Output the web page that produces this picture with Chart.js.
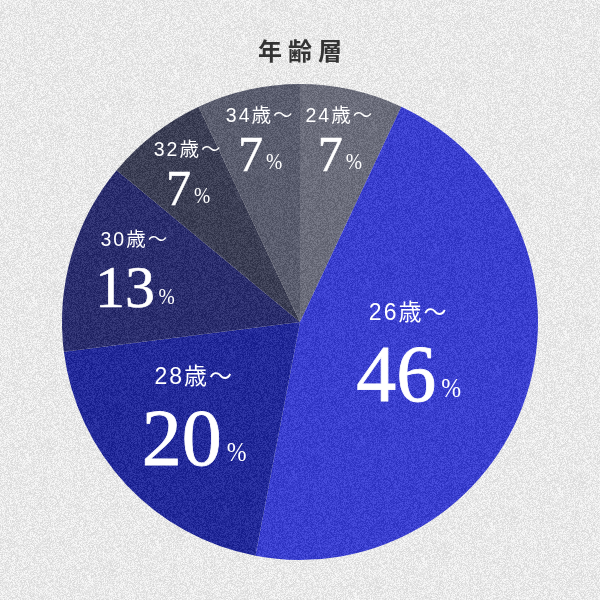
<!DOCTYPE html>
<html>
<head>
<meta charset="utf-8">
<script src="https://cdn.jsdelivr.net/npm/chart.js@4"></script>
<style>
  body { margin: 0; background: #e9e9e9; }
  #wrap { width: 600px; height: 600px; }
</style>
</head>
<body>
<div id="wrap"><canvas id="chart"></canvas></div>
<script>
var titulo = "年齢層";
var categorias = ["24歳～", "26歳～", "28歳～", "30歳～", "32歳～", "34歳～"];
var porcentagens = [7, 46, 20, 13, 7, 7];
var cores = ["#6b6d7b", "#3a3fcf", "#232a9a", "#2b2e6e", "#3c3f55", "#5a5d6e"];

var serifa = "'Times New Roman', 'Liberation Serif', Times, serif";

// ruido deterministico (textura do fundo)
var semente = 12345;
function proximo() {
  semente = (semente * 1103515245 + 12345) & 0x7fffffff;
  return semente / 0x7fffffff;
}

var fundo = {
  id: "fundo",
  beforeDraw: function (chart) {
    var ctx = chart.ctx;
    ctx.save();
    ctx.fillStyle = "#e9e9e9";
    ctx.fillRect(0, 0, chart.width, chart.height);
    ctx.restore();
  },
  afterDatasetsDraw: function (chart) {
    var ctx = chart.ctx;
    var img = ctx.getImageData(0, 0, chart.width, chart.height);
    var d = img.data;
    semente = 12345;
    for (var i = 0; i < d.length; i += 4) {
      var n = (proximo() - 0.5) * 34;
      d[i] = d[i] + n;
      d[i + 1] = d[i + 1] + n;
      d[i + 2] = d[i + 2] + n;
    }
    ctx.putImageData(img, 0, 0);
  }
};

var rotulos = {
  id: "rotulos",
  afterDraw: function (chart) {
    var ctx = chart.ctx;
    var meta = chart.getDatasetMeta(0);

    // titulo
    ctx.save();
    ctx.font = "bold 24px 'Noto Sans CJK JP', sans-serif";
    ctx.fillStyle = "#333333";
    ctx.textAlign = "center";
    ctx.textBaseline = "middle";
    ctx.letterSpacing = "6px";
    ctx.fillText(titulo, 303, 51);
    ctx.restore();

    meta.data.forEach(function (arc, i) {
      var valor = porcentagens[i];
      var meio = (arc.startAngle + arc.endAngle) / 2;
      var fator = valor <= 13 ? 0.82 - valor * 0.0075 : Math.max(0.48, 0.86 - valor * 0.0125);
      var r = arc.outerRadius * fator;
      var px = arc.x + Math.cos(meio) * r;
      var py = arc.y + Math.sin(meio) * r;

      var tamNum = valor >= 20 ? 80 : (valor >= 13 ? 60 : 50);
      var tamRot = valor >= 20 ? 23 : 19.5;
      var tamPct = valor >= 20 ? 28 : 23;

      ctx.save();
      ctx.fillStyle = "#ffffff";
      ctx.strokeStyle = "#ffffff";
      ctx.textAlign = "center";
      ctx.textBaseline = "middle";
      ctx.letterSpacing = "2px";
      ctx.font = tamRot + "px 'Liberation Sans', 'Noto Sans CJK JP', sans-serif";
      ctx.fillText(categorias[i], px, py - tamNum * 0.55);
      ctx.letterSpacing = "0px";

      var base = py + tamNum * 0.55;
      ctx.font = tamNum + "px " + serifa;
      var numTxt = String(valor);
      var wNum = ctx.measureText(numTxt).width;
      ctx.font = tamPct + "px " + serifa;
      var wPct = ctx.measureText("%").width * 0.85;
      var gap = tamNum * 0.06;
      var x0 = px - (wNum + gap + wPct) / 2;

      ctx.textAlign = "left";
      ctx.textBaseline = "alphabetic";
      ctx.font = tamNum + "px " + serifa;
      ctx.lineWidth = tamNum * 0.01;
      ctx.fillText(numTxt, x0, base);
      ctx.strokeText(numTxt, x0, base);

      ctx.save();
      ctx.translate(x0 + wNum + gap, base - tamNum * 0.05);
      ctx.scale(0.85, 1);
      ctx.font = tamPct + "px " + serifa;
      ctx.fillText("%", 0, 0);
      ctx.restore();
      ctx.restore();
    });
  }
};

var ctx = document.getElementById("chart").getContext("2d");
var chart = new Chart(ctx, {
  type: "pie",
  data: {
    labels: categorias,
    datasets: [{
      data: porcentagens,
      backgroundColor: cores,
      borderWidth: 0
    }]
  },
  options: {
    responsive: true,
    maintainAspectRatio: false,
    animation: false,
    layout: {
      padding: { top: 84, bottom: 40, left: 0, right: 0 }
    },
    plugins: {
      legend: { display: false },
      tooltip: { enabled: false }
    }
  },
  plugins: [fundo, rotulos]
});
</script>
</body>
</html>
